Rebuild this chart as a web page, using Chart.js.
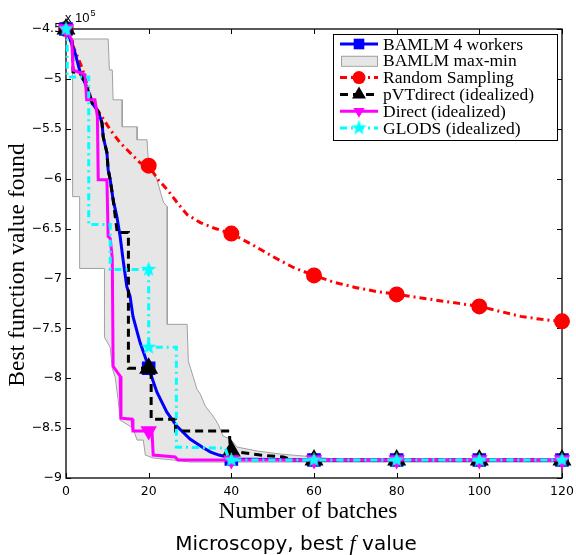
<!DOCTYPE html>
<html>
<head>
<meta charset="utf-8">
<script src="https://cdn.jsdelivr.net/npm/chart.js@4"></script>
<style>
  body { margin: 0; background: #fff; }
  canvas { display: block; }
</style>
</head>
<body>
<canvas id="chart" width="576" height="555"></canvas>
<script>
// y values are in units of 1e5 (axis shows "x 10^5")
const xTicks = [0, 20, 40, 60, 80, 100, 120];
const yTicks = [-9, -8.5, -8, -7.5, -7, -6.5, -6, -5.5, -5, -4.5];
const yTickLabels = ['\u22129', '\u22128.5', '\u22128', '\u22127.5', '\u22127', '\u22126.5', '\u22126', '\u22125.5', '\u22125', '\u22124.5'];

const legendLabels = ['BAMLM 4 workers', 'BAMLM max-min', 'Random Sampling', 'pVTdirect (idealized)', 'Direct (idealized)', 'GLODS (idealized)'];

const bamlmX = [0, 2.2, 3.4, 5, 6.3, 7.8, 8.7, 9, 9.9, 10.2, 10.7, 11.4, 12.3, 13.1, 13.8, 14.7, 15.5, 16.2, 17.9, 19.6, 20, 22, 24.4, 26.8, 30, 33.3, 35, 37, 39, 40, 60, 80, 100, 120];
const bamlmY = [-4.5, -4.74, -4.93, -5.08, -5.24, -5.33, -5.44, -5.58, -5.74, -5.91, -6.01, -6.21, -6.38, -6.58, -6.81, -7.08, -7.18, -7.38, -7.64, -7.84, -7.9, -8.14, -8.34, -8.48, -8.61, -8.7, -8.74, -8.77, -8.79, -8.81, -8.82, -8.82, -8.82, -8.82];

const bandMaxX = [1.6, 10.2, 10.5, 11.2, 11.4, 13.6, 13.6, 17.2, 17.2, 19.6, 19.9, 22, 23.6, 24.5, 24.5, 29.3, 29.6, 30.8, 31.7, 32.5, 33.7, 35.6, 36.8, 38, 39.8, 41.4, 46.3, 51.9, 57.5, 65, 120];
const bandMaxY = [-4.6, -4.6, -4.91, -4.91, -5.21, -5.21, -5.48, -5.48, -5.61, -5.61, -5.81, -6.01, -6.24, -6.28, -7.46, -7.46, -7.83, -7.99, -8.11, -8.16, -8.28, -8.38, -8.46, -8.58, -8.61, -8.69, -8.73, -8.76, -8.78, -8.81, -8.82];
const bandMinX = [1.6, 3.3, 3.3, 9.3, 9.3, 10.7, 11.2, 11.9, 12.6, 13.1, 16.2, 17.2, 18.7, 19.2, 21.1, 26, 30, 120];
const bandMinY = [-6.18, -6.18, -6.9, -6.9, -7.59, -7.69, -7.9, -7.99, -8.21, -8.42, -8.5, -8.62, -8.62, -8.77, -8.8, -8.82, -8.84, -8.84];

const randomX = [0, 3.9, 6.3, 8.7, 10.7, 13.1, 15.5, 17.9, 20, 22.3, 24.7, 26.9, 29.3, 32.5, 36.1, 40, 45, 50, 55, 60, 65, 70, 75, 80, 85, 90, 95, 100, 105, 110, 115, 120];
const randomY = [-4.5, -4.89, -5.23, -5.38, -5.51, -5.64, -5.74, -5.84, -5.87, -6.01, -6.12, -6.24, -6.36, -6.44, -6.5, -6.55, -6.66, -6.78, -6.89, -6.97, -7.04, -7.09, -7.13, -7.16, -7.19, -7.22, -7.25, -7.28, -7.33, -7.38, -7.41, -7.43];

const pvtX = [0, 1.5, 1.7, 3.4, 5, 6.3, 7.8, 8.7, 9, 9.9, 10.2, 10.7, 11.4, 12.4, 15.1, 15.1, 20, 20.6, 20.6, 26.5, 26.5, 39.5, 39.8, 40, 41.5, 47, 52.6, 55, 60, 80, 100, 120];
const pvtY = [-4.5, -4.6, -4.93, -4.94, -5.08, -5.24, -5.33, -5.44, -5.58, -5.74, -5.91, -6.01, -6.21, -6.54, -6.54, -7.9, -7.9, -7.9, -8.41, -8.41, -8.53, -8.53, -8.73, -8.73, -8.74, -8.77, -8.79, -8.82, -8.82, -8.82, -8.82, -8.82];

const directX = [0, 1.4, 1.7, 4.6, 5, 7, 7.6, 7.8, 9.9, 10.2, 10.7, 11.2, 11.4, 13.1, 13.3, 16, 16.2, 20, 20.8, 21.1, 26.4, 27.1, 40, 60, 80, 100, 120];
const directY = [-4.5, -4.61, -4.91, -4.96, -5.21, -5.21, -5.38, -6.01, -6.01, -6.58, -6.6, -6.8, -7.88, -7.98, -8.4, -8.41, -8.53, -8.53, -8.53, -8.77, -8.79, -8.82, -8.82, -8.82, -8.82, -8.82, -8.82];

const glodsX = [0, 0.3, 0.3, 5.5, 5.5, 10.7, 10.7, 20, 20, 26.7, 26.7, 38.5, 39.5, 40, 60, 80, 100, 120];
const glodsY = [-4.5, -4.5, -4.98, -4.98, -6.46, -6.46, -6.91, -6.91, -7.69, -7.69, -8.69, -8.7, -8.82, -8.82, -8.82, -8.82, -8.82, -8.82];

const pts = (xs, ys) => xs.map((x, i) => ({ x: x, y: ys[i] }));
const showAt20 = r => c => (c.raw && c.raw.x % 20 === 0 ? r : 0);

// band polygon: max forward, min backward
const bandShape = pts(bandMaxX, bandMaxY).concat(pts(bandMinX, bandMinY).reverse());
bandShape.push(bandShape[0]);

function makeStar(size, color) {
    const c = document.createElement('canvas');
    c.width = size; c.height = size;
    const g = c.getContext('2d');
    const R = size / 2 - 0.5, r = R * 0.42;
    g.beginPath();
    for (let i = 0; i < 10; i++) {
        const a = -Math.PI / 2 + i * Math.PI / 5;
        const rr = i % 2 ? r : R;
        g.lineTo(size / 2 + rr * Math.cos(a), size / 2 + rr * Math.sin(a));
    }
    g.closePath();
    g.fillStyle = color;
    g.fill();
    return c;
}
const star = makeStar(17, '#00ffff');

function drawMarker(g, kind, x, y, color) {
    g.save();
    g.setLineDash([]);
    g.fillStyle = color;
    g.beginPath();
    if (kind === 'square') {
        g.rect(x - 5.3, y - 5.3, 10.6, 10.6);
    } else if (kind === 'circle') {
        g.arc(x, y, 6.5, 0, Math.PI * 2);
    } else if (kind === 'up' || kind === 'down') {
        const r = kind === 'up' ? 8 : 6.5;
        const s = kind === 'up' ? 1 : -1;
        g.moveTo(x, y - s * r);
        g.lineTo(x + r * 0.866, y + s * r / 2);
        g.lineTo(x - r * 0.866, y + s * r / 2);
        g.closePath();
    } else if (kind === 'star') {
        g.drawImage(star, x - star.width / 2, y - star.height / 2);
        g.restore();
        return;
    }
    g.fill();
    g.restore();
}

const framePlugin = {
    id: 'frame',
    beforeDatasetsDraw(chart) {
        const g = chart.ctx;
        const a = chart.chartArea;
        const sx = chart.scales.x, sy = chart.scales.y;
        g.save();
        g.strokeStyle = '#000';
        g.lineWidth = 1;
        g.beginPath();
        xTicks.forEach(v => {
            const p = Math.round(sx.getPixelForValue(v)) + 0.5;
            g.moveTo(p, a.bottom); g.lineTo(p, a.bottom - 5);
            g.moveTo(p, a.top); g.lineTo(p, a.top + 5);
        });
        yTicks.forEach(v => {
            const p = Math.round(sy.getPixelForValue(v)) + 0.5;
            g.moveTo(a.left, p); g.lineTo(a.left + 5, p);
            g.moveTo(a.right, p); g.lineTo(a.right - 5, p);
        });
        g.stroke();
        g.lineWidth = 1.3;
        g.strokeRect(a.left, a.top, a.right - a.left, a.bottom - a.top);

        // exponent label
        g.fillStyle = '#000';
        g.textBaseline = 'alphabetic';
        g.font = '13px "Liberation Sans"';
        g.fillText('x 10', 65, 22);
        const w = g.measureText('x 10').width;
        g.font = '9px "Liberation Sans"';
        g.fillText('5', 65 + w + 1, 16);

        // axis titles
        g.font = '23.5px "Liberation Serif"';
        g.textAlign = 'center';
        g.textBaseline = 'middle';
        g.fillText('Number of batches', 308, 512);
        g.save();
        g.translate(18, 265);
        g.rotate(-Math.PI / 2);
        g.fillText('Best function value found', 0, 0);
        g.restore();
        g.restore();
    },
    afterDraw(chart) {
        const g = chart.ctx;
        g.save();
        // legend box
        const bx = 333, by = 34, bw = 224, bh = 106;
        g.fillStyle = '#fff';
        g.fillRect(bx, by, bw, bh);
        g.strokeStyle = '#000';
        g.lineWidth = 1;
        g.strokeRect(bx + 0.5, by + 0.5, bw, bh);

        const styles = [
            { color: '#0000ff', dash: [], marker: 'square' },
            { band: true },
            { color: '#ff0000', dash: [7, 4, 2, 4], marker: 'circle' },
            { color: '#000000', dash: [8, 5], marker: 'up' },
            { color: '#ff00ff', dash: [], marker: 'down' },
            { color: '#00ffff', dash: [7, 4, 2, 4], marker: 'star' }
        ];
        legendLabels.forEach((label, i) => {
            const y = 44 + i * 16.8;
            const st = styles[i];
            if (st.band) {
                g.fillStyle = '#e6e6e6';
                g.fillRect(341, y - 5, 37, 10);
                g.strokeStyle = '#a0a0a0';
                g.lineWidth = 1;
                g.setLineDash([]);
                g.strokeRect(341.5, y - 4.5, 36, 10);
            } else {
                g.strokeStyle = st.color;
                g.lineWidth = 3;
                g.setLineDash(st.dash);
                g.beginPath();
                g.moveTo(340, y); g.lineTo(378, y);
                g.stroke();
                drawMarker(g, st.marker, 359, y, st.color);
            }
            g.setLineDash([]);
            g.fillStyle = '#000';
            g.font = '17.5px "Liberation Serif"';
            g.textBaseline = 'middle';
            g.fillText(label, 383, y + 1);
        });

        // bottom title with italic f
        const parts = [
            { t: 'Microscopy, best ', f: '20px "DejaVu Sans"' },
            { t: 'f', f: 'italic 22px "Liberation Serif"' },
            { t: ' value', f: '20px "DejaVu Sans"' }
        ];
        let total = 0;
        parts.forEach(p => { g.font = p.f; p.w = g.measureText(p.t).width; total += p.w; });
        let x = 296 - total / 2;
        g.textBaseline = 'alphabetic';
        parts.forEach(p => { g.font = p.f; g.fillText(p.t, x, 550); x += p.w; });
        g.restore();
    }
};

new Chart(document.getElementById('chart'), {
    type: 'line',
    data: {
        datasets: [
            {
                label: 'GLODS (idealized)', data: pts(glodsX, glodsY),
                borderColor: '#00ffff', borderWidth: 3, borderDash: [7, 4, 2, 4],
                pointStyle: star, pointRadius: showAt20(8), clip: false
            },
            {
                label: 'Direct (idealized)', data: pts(directX, directY),
                borderColor: '#ff00ff', borderWidth: 3,
                pointStyle: 'triangle', pointRotation: 180, pointRadius: showAt20(6.5),
                pointBackgroundColor: '#ff00ff', pointBorderColor: '#ff00ff', clip: false
            },
            {
                label: 'pVTdirect (idealized)', data: pts(pvtX, pvtY),
                borderColor: '#000000', borderWidth: 3, borderDash: [8, 5],
                pointStyle: 'triangle', pointRadius: showAt20(8),
                pointBackgroundColor: '#000000', pointBorderColor: '#000000', clip: false
            },
            {
                label: 'BAMLM 4 workers', data: pts(bamlmX, bamlmY),
                borderColor: '#0000ff', borderWidth: 3,
                pointStyle: 'rect', pointRadius: showAt20(7.5),
                pointBackgroundColor: '#0000ff', pointBorderColor: '#0000ff', clip: false
            },
            {
                label: 'Random Sampling', data: pts(randomX, randomY),
                borderColor: '#ff0000', borderWidth: 3, borderDash: [7, 4, 2, 4],
                pointStyle: 'circle', pointRadius: showAt20(6.5),
                pointBackgroundColor: '#ff0000', pointBorderColor: '#ff0000', clip: false
            },
            {
                label: 'BAMLM max-min', data: bandShape,
                borderColor: '#a0a0a0', borderWidth: 1, backgroundColor: '#e6e6e6',
                fill: 'shape', pointRadius: 0
            }
        ]
    },
    options: {
        responsive: false,
        animation: false,
        events: [],
        layout: { padding: { top: 29, right: 14, left: 0, bottom: 0 } },
        plugins: {
            legend: { display: false },
            tooltip: { enabled: false }
        },
        scales: {
            x: {
                type: 'linear', min: 0, max: 120,
                afterBuildTicks: s => { s.ticks = xTicks.map(v => ({ value: v })); },
                ticks: { padding: 6, color: '#000', maxRotation: 0, autoSkip: false,
                         font: { family: 'DejaVu Sans', size: 12.5 } },
                grid: { display: false, drawTicks: false },
                border: { display: false },
                afterFit: s => { s.height = 77; s.paddingLeft = 0; s.paddingRight = 0; }
            },
            y: {
                type: 'linear', min: -9, max: -4.5,
                afterBuildTicks: s => { s.ticks = yTicks.map(v => ({ value: v })); },
                ticks: { padding: 4, color: '#000', autoSkip: false,
                         font: { family: 'DejaVu Sans', size: 12.5 },
                         callback: v => yTickLabels[yTicks.indexOf(v)] },
                grid: { display: false, drawTicks: false },
                border: { display: false },
                afterFit: s => { s.width = 66; s.paddingTop = 0; s.paddingBottom = 0; }
            }
        }
    },
    plugins: [framePlugin]
});
</script>
</body>
</html>
